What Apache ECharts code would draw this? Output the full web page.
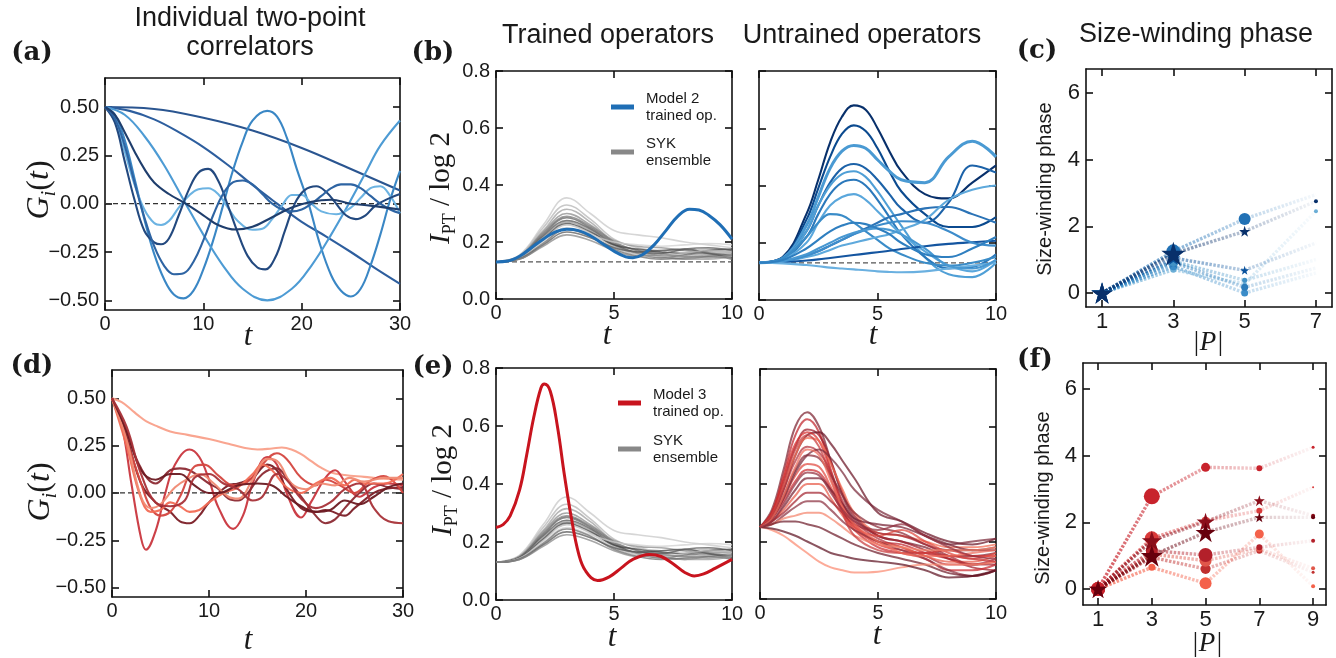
<!DOCTYPE html>
<html><head><meta charset="utf-8">
<script src="https://cdn.jsdelivr.net/npm/echarts@6/dist/echarts.min.js"></script>
<style>html,body{margin:0;padding:0;background:#fff}#c{width:1336px;height:658px}</style>
</head><body><div id="c"></div>
<script>
// ---------------- DATA ----------------
// (a) individual two-point correlators, model 2 (t, G)
const a1 = [[0,0.5],[5,0.49],[10,0.444],[15,0.378],[20,0.288],[25,0.179],[30,0.068]];
const a2 = [[0,0.5],[2.5,0.48],[5,0.436],[7.5,0.37],[10,0.293],[12.5,0.2],[15,0.097],[17.5,0.0],[20,-0.094],[22.5,-0.17],[25,-0.25],[27.5,-0.335],[30,-0.415]];
const a3 = [[0,0.5],[1,0.46],[2,0.33],[3,0.13],[4,-0.08],[5,-0.26],[6,-0.39],[7,-0.47],[8,-0.49],[9,-0.45],[10,-0.34],[11,-0.19],[12,-0.01],[13,0.17],[14,0.32],[15,0.43],[16.5,0.48],[17.5,0.45],[18.5,0.34],[19.5,0.18],[20.7,0],[21.8,-0.2],[23,-0.37],[24,-0.45],[25,-0.48],[26,-0.44],[27,-0.32],[28,-0.16],[29,0.02],[30,0.17]];
const a4 = [[0,0.5],[2,0.46],[4,0.35],[6,0.2],[8.2,0],[10,-0.16],[12,-0.32],[14,-0.44],[16.5,-0.5],[19,-0.44],[21,-0.32],[23,-0.16],[24.8,0],[26.5,0.16],[28,0.3],[30,0.43]];
const a5 = [[0,0.5],[1,0.43],[2,0.27],[3,0.1],[4,-0.03],[5,-0.1],[5.7,-0.11],[6.5,-0.09],[7.5,-0.02],[8.5,0.04],[9.5,0.075],[10.5,0.08],[11.5,0.05],[12.5,-0.02],[13.5,-0.09],[15,-0.135],[16,-0.13],[17,-0.08],[18,-0.01],[19,0.045],[20,0.045],[21,0.0],[22,-0.04],[23.5,-0.055],[25,-0.02],[26,0.03],[27,0.08],[28,0.09],[29,0.04],[30,-0.05]];
const a6 = [[0,0.5],[1,0.42],[2,0.22],[3,0.02],[4,-0.14],[5,-0.2],[5.7,-0.21],[6.5,-0.18],[7.5,-0.06],[8.5,0.07],[9.5,0.16],[10.5,0.18],[11.5,0.12],[12.5,-0.01],[13.5,-0.15],[14.5,-0.27],[15.5,-0.33],[16.3,-0.34],[17.3,-0.28],[18.3,-0.14],[19.3,0.0],[20.3,0.07],[21.5,0.09],[22.5,0.06],[23.5,0.0],[24.5,-0.06],[25.5,-0.08],[26.5,-0.06],[27.5,-0.01],[29,0.03],[30,0.05]];
const a7 = [[0,0.5],[1,0.44],[2,0.3],[3,0.11],[4,-0.07],[5,-0.22],[6,-0.32],[7,-0.365],[8,-0.36],[9,-0.3],[10,-0.19],[11,-0.06],[12,0.05],[13,0.11],[14,0.12],[15,0.1],[16,0.05],[17,0.0],[18,-0.03],[19,-0.04],[20,-0.03],[21,0.0],[22,0.04],[23,0.08],[24,0.1],[25,0.1],[26,0.08],[27,0.04],[28,0.0],[29,-0.03],[30,-0.05]];
const a8 = [[0,0.5],[1,0.46],[2,0.37],[3,0.27],[4,0.18],[5,0.11],[6.5,0.05],[8.2,0.0],[10,-0.06],[11.5,-0.11],[13.3,-0.134],[15,-0.12],[17,-0.07],[19,-0.02],[21,0.01],[23,0.02],[25,0.0],[27,-0.01],[30,-0.03]];

// (d) individual two-point correlators, model 3
const d1 = [[0,0.5],[1,0.48],[2,0.44],[2.7,0.41],[3.5,0.38],[4.75,0.35],[6,0.325],[7.8,0.307],[10,0.285],[12,0.26],[13.5,0.24],[15,0.23],[16.5,0.235],[17.5,0.24],[18.5,0.23],[19.5,0.205],[20.5,0.17],[21.5,0.135],[22.5,0.11],[24,0.095],[26,0.085],[28,0.075],[30,0.07]];
const d2 = [[0,0.5],[1,0.36],[2,0.05],[3,-0.24],[3.5,-0.3],[4.5,-0.2],[5.5,0.0],[6.5,0.15],[8,0.23],[9,0.19],[10,0.07],[11,-0.08],[12.5,-0.19],[13.5,-0.12],[14.5,0.05],[16,0.19],[17,0.15],[18,0.0],[19.5,-0.13],[20.5,-0.05],[22,0.08],[23,0.12],[24,0.06],[25.5,-0.02],[27,0.03],[28.5,0.05],[30,0.04]];
const d3 = [[0,0.5],[1.5,0.3],[3,0.05],[4.5,-0.05],[6,-0.1],[7,-0.15],[8,-0.16],[9,-0.12],[10,-0.05],[12,0.04],[13,0.05],[14.5,0.08],[16,0.15],[17,0.12],[18,0.02],[19.5,-0.08],[21,-0.1],[22,-0.09],[24,-0.12],[25,-0.08],[27,0.0],[28,0.02],[30,0.03]];
const d4 = [[0,0.5],[1.5,0.32],[3,0.13],[4.5,0.05],[6,0.12],[7,0.13],[8,0.12],[10,0.05],[11,0.02],[12,-0.03],[13,-0.04],[14,0.0],[15.5,0.1],[17,0.13],[18,0.08],[19.5,-0.02],[21,-0.12],[22,-0.16],[23,-0.14],[24,-0.08],[25.5,0.0],[27,0.05],[28.5,0.03],[30,0.02]];
const d5 = [[0,0.5],[1.5,0.28],[3,0.05],[4,-0.08],[5,-0.12],[6,-0.1],[7,-0.02],[8.5,0.14],[9.5,0.15],[11,0.09],[12.5,0.04],[14,0.06],[15.5,0.15],[17,0.21],[18,0.18],[19.5,0.08],[21,0.04],[22,0.07],[23.5,0.04],[25,0.0],[26.5,0.06],[28,0.09],[30,0.0]];
const d6 = [[0,0.5],[1.5,0.25],[3,-0.03],[4,-0.1],[5,-0.09],[6,-0.05],[7,-0.07],[8,-0.1],[9,-0.09],[10,-0.05],[11.5,0.0],[13,0.03],[14.5,0.1],[15.5,0.15],[16.5,0.12],[18,0.03],[19.5,0.0],[21,0.05],[22.5,0.08],[24,0.04],[25,0.07],[26,0.05],[28,0.05],[30,0.1]];
const d7 = [[0,0.5],[1.5,0.28],[3,-0.02],[4,-0.08],[5,-0.06],[6.5,0.03],[8,0.08],[9,0.1],[10.5,0.05],[12,-0.02],[13,-0.03],[14.5,0.07],[16,0.18],[17,0.17],[18.5,0.05],[20,0.02],[21.5,0.05],[23,0.04],[24.5,0.08],[26,0.06],[28,0.08],[30,0.08]];
const d8 = [[0,0.5],[1.5,0.33],[3,0.12],[4.5,0.07],[6,0.1],[7,0.1],[8.5,0.04],[10,0.0],[11,0.0],[13,0.04],[15,0.05],[16.5,0.04],[18,-0.02],[19.5,-0.07],[21,-0.1],[22.5,-0.09],[24,-0.04],[25.5,-0.06],[27,-0.02],[28.5,0.03],[30,0.05]];
const d9 = [[0,0.5],[1.5,0.35],[3,0.1],[4.5,-0.05],[6,-0.07],[7.5,-0.04],[8.5,0.08],[10,0.1],[11.5,0.05],[13,0.02],[14.5,-0.04],[15.5,-0.02],[17,0.1],[18,0.07],[19.5,-0.03],[21,-0.08],[22.5,-0.05],[24,0.02],[25.5,0.05],[27,-0.08],[28.5,-0.15],[30,-0.16]];

// (b) trained operator, model 2 (t, I/log2)
const trainedBlue = [[0,0.13],[0.5,0.133],[1,0.15],[1.5,0.18],[2,0.21],[2.5,0.235],[3,0.245],[3.5,0.24],[4,0.222],[4.5,0.195],[5,0.168],[5.5,0.148],[5.8,0.145],[6.2,0.155],[6.7,0.19],[7.2,0.24],[7.7,0.29],[8.2,0.315],[8.6,0.312],[9,0.295],[9.5,0.26],[10,0.21]];
// (e) trained operator, model 3
const trainedRed = [[0,0.25],[0.3,0.26],[0.6,0.29],[1,0.38],[1.3,0.5],[1.6,0.63],[1.9,0.73],[2.05,0.745],[2.3,0.72],[2.6,0.6],[2.9,0.43],[3.2,0.28],[3.5,0.16],[3.8,0.1],[4.3,0.067],[4.8,0.08],[5.3,0.11],[5.8,0.14],[6.5,0.157],[7,0.15],[7.5,0.125],[8,0.095],[8.4,0.083],[8.8,0.09],[9.3,0.11],[10,0.14]];

// SYK ensemble (grey), sampled at tSYK
const tSYK = [0,1,2,3,4,5,6,7,8,9,10];
const syk = [
 [0.13,0.155,0.26,0.355,0.30,0.24,0.225,0.215,0.20,0.19,0.18],
 [0.13,0.152,0.25,0.33,0.28,0.21,0.18,0.17,0.17,0.175,0.17],
 [0.13,0.15,0.24,0.315,0.27,0.2,0.17,0.16,0.15,0.155,0.16],
 [0.13,0.15,0.235,0.30,0.26,0.205,0.185,0.18,0.17,0.165,0.165],
 [0.13,0.148,0.23,0.29,0.255,0.2,0.17,0.15,0.14,0.15,0.155],
 [0.13,0.147,0.225,0.285,0.25,0.195,0.16,0.145,0.155,0.16,0.15],
 [0.13,0.146,0.22,0.275,0.245,0.19,0.165,0.17,0.175,0.16,0.145],
 [0.13,0.145,0.215,0.27,0.24,0.185,0.16,0.15,0.14,0.14,0.15],
 [0.13,0.145,0.21,0.265,0.235,0.19,0.175,0.165,0.16,0.17,0.175],
 [0.13,0.144,0.205,0.26,0.23,0.18,0.155,0.15,0.16,0.17,0.165],
 [0.13,0.143,0.2,0.25,0.225,0.2,0.19,0.185,0.19,0.195,0.19],
 [0.13,0.142,0.195,0.245,0.22,0.175,0.15,0.14,0.145,0.15,0.14],
 [0.13,0.14,0.19,0.235,0.215,0.18,0.165,0.16,0.175,0.18,0.17],
 [0.13,0.14,0.185,0.225,0.205,0.17,0.15,0.155,0.15,0.145,0.155]
];

// (b) untrained operators, model 2
const tU = [0,1,2,2.5,3,3.5,4,4.5,5,5.5,6,7,8,9,10];
const untrainedBlue = [
 [0.13,0.15,0.3,0.42,0.55,0.64,0.68,0.665,0.6,0.52,0.45,0.37,0.355,0.41,0.47],
 [0.13,0.148,0.28,0.39,0.5,0.58,0.61,0.59,0.53,0.45,0.38,0.3,0.255,0.255,0.29],
 [0.13,0.146,0.26,0.36,0.46,0.52,0.54,0.53,0.49,0.45,0.42,0.41,0.5,0.555,0.5],
 [0.13,0.145,0.24,0.33,0.41,0.46,0.475,0.46,0.42,0.37,0.32,0.27,0.34,0.47,0.445],
 [0.13,0.145,0.24,0.33,0.4,0.44,0.45,0.43,0.38,0.32,0.26,0.15,0.09,0.08,0.13],
 [0.13,0.143,0.22,0.3,0.37,0.41,0.42,0.4,0.35,0.29,0.23,0.15,0.11,0.115,0.16],
 [0.13,0.142,0.2,0.27,0.33,0.36,0.37,0.35,0.31,0.27,0.23,0.17,0.12,0.1,0.14],
 [0.13,0.145,0.22,0.27,0.3,0.295,0.27,0.24,0.21,0.18,0.16,0.13,0.12,0.13,0.15],
 [0.13,0.135,0.155,0.17,0.19,0.21,0.23,0.25,0.27,0.29,0.3,0.32,0.325,0.3,0.27],
 [0.13,0.134,0.15,0.16,0.175,0.19,0.2,0.21,0.22,0.23,0.245,0.28,0.35,0.385,0.4],
 [0.13,0.132,0.138,0.142,0.147,0.152,0.157,0.162,0.167,0.172,0.178,0.188,0.196,0.202,0.207],
 [0.13,0.135,0.155,0.17,0.19,0.21,0.23,0.245,0.26,0.27,0.275,0.27,0.24,0.2,0.19],
 [0.13,0.128,0.122,0.118,0.113,0.11,0.107,0.104,0.1,0.098,0.097,0.1,0.11,0.12,0.13],
 [0.13,0.137,0.16,0.18,0.2,0.22,0.235,0.245,0.25,0.245,0.23,0.18,0.12,0.11,0.14],
 [0.13,0.14,0.18,0.21,0.24,0.26,0.27,0.265,0.25,0.23,0.2,0.16,0.15,0.18,0.22]
];

// (e) untrained operators, model 3
const tR = [0,0.5,1,1.5,2,2.5,3,3.5,4,5,6,7,8,9,10];
const untrainedRed = [
 [0.25,0.31,0.45,0.6,0.65,0.6,0.48,0.36,0.28,0.22,0.2,0.18,0.15,0.15,0.16],
 [0.25,0.3,0.43,0.57,0.625,0.58,0.45,0.33,0.26,0.2,0.19,0.16,0.14,0.12,0.13],
 [0.25,0.3,0.41,0.53,0.59,0.57,0.48,0.37,0.29,0.22,0.2,0.17,0.14,0.11,0.1],
 [0.25,0.29,0.38,0.5,0.57,0.58,0.54,0.48,0.42,0.3,0.27,0.23,0.2,0.19,0.21],
 [0.25,0.3,0.42,0.54,0.58,0.55,0.44,0.32,0.25,0.19,0.17,0.16,0.17,0.15,0.15],
 [0.25,0.29,0.39,0.5,0.56,0.55,0.47,0.38,0.3,0.23,0.22,0.2,0.18,0.18,0.19],
 [0.25,0.29,0.38,0.48,0.53,0.51,0.44,0.34,0.27,0.21,0.18,0.15,0.12,0.12,0.14],
 [0.25,0.28,0.36,0.45,0.5,0.49,0.43,0.36,0.3,0.25,0.23,0.19,0.17,0.17,0.18],
 [0.25,0.28,0.35,0.43,0.47,0.46,0.39,0.31,0.25,0.22,0.24,0.2,0.16,0.14,0.16],
 [0.25,0.28,0.34,0.41,0.45,0.44,0.38,0.3,0.24,0.18,0.16,0.14,0.1,0.1,0.12],
 [0.25,0.27,0.32,0.38,0.42,0.42,0.38,0.33,0.28,0.26,0.25,0.22,0.19,0.17,0.17],
 [0.25,0.27,0.31,0.36,0.4,0.4,0.35,0.29,0.24,0.2,0.18,0.15,0.13,0.13,0.15],
 [0.25,0.27,0.3,0.34,0.37,0.37,0.34,0.3,0.26,0.23,0.22,0.19,0.15,0.12,0.12],
 [0.25,0.26,0.29,0.32,0.34,0.34,0.31,0.27,0.24,0.2,0.17,0.14,0.1,0.08,0.1],
 [0.25,0.26,0.28,0.29,0.3,0.3,0.28,0.25,0.22,0.19,0.18,0.17,0.17,0.17,0.18],
 [0.25,0.26,0.27,0.27,0.26,0.25,0.23,0.21,0.19,0.16,0.14,0.12,0.09,0.08,0.1],
 [0.25,0.24,0.22,0.19,0.16,0.13,0.11,0.1,0.092,0.095,0.11,0.12,0.12,0.12,0.13],
 [0.25,0.245,0.235,0.22,0.2,0.18,0.16,0.15,0.14,0.13,0.12,0.1,0.075,0.08,0.1],
 [0.25,0.29,0.4,0.52,0.57,0.53,0.42,0.3,0.22,0.17,0.16,0.16,0.15,0.14,0.13],
 [0.25,0.28,0.35,0.44,0.5,0.52,0.49,0.44,0.38,0.31,0.27,0.22,0.19,0.2,0.21],
 [0.25,0.28,0.36,0.46,0.52,0.5,0.41,0.32,0.26,0.2,0.16,0.15,0.15,0.16,0.17],
 [0.25,0.27,0.33,0.4,0.44,0.43,0.37,0.31,0.27,0.24,0.26,0.22,0.18,0.15,0.14]
];
const baselineB = 0.13;

// (c) size-winding phase, model 2
const sizeC = [1,3,5,7];
const phaseC = [
 [0,1.25,2.22,2.95],
 [0,1.18,1.85,2.75],
 [0,1.05,0.68,1.5],
 [0,0.95,0.38,1.0],
 [0,0.92,0.17,0.75],
 [0,0.8,0.0,0.6],
 [0,0.7,0.27,2.45]
];
// (f) size-winding phase, model 3
const sizeF = [1,3,5,7,9];
const phaseF = [
 [0,2.78,3.65,3.62,4.25],
 [0,1.45,2.02,2.65,2.2],
 [0,1.0,1.7,2.15,2.15],
 [0,1.52,2.05,2.35,3.05],
 [0,1.15,1.02,1.25,1.45],
 [0,1.05,0.85,1.2,0.62],
 [0,0.95,0.6,1.15,0.5],
 [0,0.65,0.17,1.65,0.08]
];

// ---------------- STYLE ----------------
const SANS = 'Liberation Sans, Arial, Helvetica, sans-serif';
const SERIF = 'Liberation Serif, DejaVu Serif, serif';
const STAR = 'path://M50,0 L61.2,34.5 L97.6,34.5 L68.2,55.9 L79.4,90.5 L50,69.1 L20.6,90.5 L31.8,55.9 L2.4,34.5 L38.8,34.5 Z';
const colA = ['#2a5590','#2d5e9e','#3a87c5','#4d9bd4','#6cb3e2','#23497f','#2e64a3','#1f3e6d'];
const colD = ['#f9a08a','#c9363e','#7b1d26','#8c2a33','#d4463f','#f26c55','#f08a73','#6b1a22','#a83238'];
const colSYK = ['#c8c8c8','#b5b5b5','#a0a0a0','#8c8c8c','#7a7a7a','#666666','#555555','#999999','#444444','#bbbbbb','#d0d0d0','#707070','#5a5a5a','#888888'];
const colU = ['#08306b','#0b4a8f','#4a9ad3','#1c62a8','#4f9fd6','#2a78bb','#5aa7dc','#3a8cc8','#2b73b6','#5ea9dc','#1455a0','#3d8ccb','#6ab0e0','#4898d2','#2f7fc0'];
const colR = ['#7d2230','#c0252c','#9e1b27','#6b1525','#d7302f','#f26a50','#b3313b','#8a2a36','#e0483e','#cc2b30','#762032','#e85c4a','#a32631','#8c3040','#f4836c','#6f1d2b','#fb8a72','#5e1422','#c83a3c','#7a2a3a','#ef6b5a','#933040'];
const colC = ['#2171b5','#08306b','#08519c','#4292c6','#2b7bba','#3a8cc8','#6baed6'];
const symC = [['s','c','c','c'],['s','s','s','c'],['s','s','s','c'],['s','c','c','c'],['s','s','c','c'],['s','c','c','c'],['s','c','c','c']];
const sizC = [[20,14,12,0],[22,24,11,4],[20,14,9,0],[20,10,5,0],[20,12,7,0],[20,8,7,0],[20,6,4,4]];
const orderC = [6,5,4,3,2,0,1];
const colF = ['#c8232c','#8b0e1a','#67000d','#d93a3a','#b3202a','#e0574a','#c0302f','#f4614a'];
const symF = [['c','c','c','c','c'],['s','s','s','s','c'],['s','s','s','s','c'],['c','c','c','c','c'],['c','c','c','c','c'],['c','c','c','c','c'],['c','c','c','c','c'],['c','c','c','c','c']];
const sizF = [[14,16,9,6,3],[18,20,18,11,4],[18,22,20,10,4],[14,14,8,6,2],[14,12,14,6,4],[12,12,12,6,4],[12,10,10,6,3],[12,7,12,9,4]];
const orderF = [7,6,5,4,3,0,1,2];

// ---------------- BUILD ----------------
const grids = [], xAxes = [], yAxes = [], series = [];
function fmt2(v){ return (v < 0 ? '\u2212' : '') + Math.abs(v).toFixed(2); }
function fmt1(v){ return v.toFixed(1); }
function fmt0(v){ return String(v); }
function axisBase(gi, min, max, ticks, pos, showLabel, fmt, fs, margin){
  return {type:'value', gridIndex:gi, min:min, max:max, position:pos,
    axisLine:{show:true, onZero:false, lineStyle:{color:'#111', width:1.6}},
    axisTick:{show:true, inside:true, length:7, customValues:ticks, lineStyle:{color:'#111', width:1.6}},
    axisLabel:{show:showLabel, customValues:ticks, formatter:fmt, fontSize:fs, color:'#1a1a1a', fontFamily:SANS, margin:margin},
    splitLine:{show:false}};
}
function panel(rect, xr, yr, xt, yt, showY, yfmt, fs){
  const gi = grids.length;
  grids.push({left:rect[0], top:rect[1], width:rect[2], height:rect[3], containLabel:false});
  xAxes.push(axisBase(gi, xr[0], xr[1], xt, 'bottom', true, fmt0, fs, 4));
  xAxes.push(axisBase(gi, xr[0], xr[1], xt, 'top', false, fmt0, fs, 4));
  yAxes.push(axisBase(gi, yr[0], yr[1], yt, 'left', showY, yfmt, fs, 6));
  yAxes.push(axisBase(gi, yr[0], yr[1], yt, 'right', false, yfmt, fs, 6));
  return gi;
}
function line(gi, data, color, width, opacity, name, z){
  series.push({type:'line', name:name, xAxisIndex:2*gi, yAxisIndex:2*gi, data:data, smooth:0.4,
    showSymbol:false, symbol:'none', color:color, z:z||2, silent:true,
    lineStyle:{color:color, width:width, opacity:opacity==null?1:opacity}});
}
function hline(gi, x0, x1, y, color){
  series.push({type:'line', xAxisIndex:2*gi, yAxisIndex:2*gi, data:[[x0,y],[x1,y]], showSymbol:false, symbol:'none', silent:true, z:1,
    lineStyle:{color:color, width:1.3, type:[5,3]}});
}
function zipT(T, vals){ return vals.map((v,i)=>[T[i], v]); }
function rgba(hex, a){ const n=parseInt(hex.slice(1),16); return 'rgba('+(n>>16&255)+','+(n>>8&255)+','+(n&255)+','+a+')'; }
function pathSeries(gi, xs, ys, syms, sizes, color, a0, a1){
  series.push({type:'line', xAxisIndex:2*gi, yAxisIndex:2*gi, silent:true, z:3,
    data: xs.map((x,i)=>({value:[x, ys[i]], symbol: syms[i]==='s' ? STAR : 'circle', symbolSize: sizes[i]})),
    showSymbol:true, itemStyle:{color:color, opacity:1},
    lineStyle:{width:3.4, type:[2.5,1.5], color:new echarts.graphic.LinearGradient(0,0,1,0,[{offset:0,color:rgba(color,a0)},{offset:1,color:rgba(color,a1)}])}});
}

// panel (a)
const gA = panel([105,78,295,232],[0,30],[-0.55,0.65],[0,10,20,30],[-0.5,-0.25,0,0.25,0.5],true,fmt2,20);
hline(gA,0,30,0,'#333');
[a1,a2,a3,a4,a5,a6,a7,a8].forEach((d,i)=>line(gA,d,colA[i],2.1,1));
// panel (b) trained
const gB1 = panel([496,71,236,228],[0,10],[0,0.8],[0,5,10],[0,0.2,0.4,0.6,0.8],true,fmt1,20);
hline(gB1,0,10,baselineB,'#555');
syk.forEach((v,i)=>line(gB1,zipT(tSYK,v),colSYK[i],1.6,0.75,'SYK\nensemble'));
line(gB1,trainedBlue,'#1f6eb5',3,1,'Model 2\ntrained op.',5);
// panel (b) untrained
const gB2 = panel([759,71,237,229],[0,10],[0,0.8],[0,5,10],[0,0.2,0.4,0.6,0.8],false,fmt1,20);
hline(gB2,0,10,baselineB,'#555');
untrainedBlue.forEach((v,i)=>line(gB2,zipT(tU,v),colU[i],i===2?3:2.1,1));
// panel (c)
const gC = panel([1086,69,246,238],[0.55,7.45],[-0.42,6.72],[1,3,5,7],[0,2,4,6],true,fmt0,22);
orderC.forEach(i=>pathSeries(gC,sizeC,phaseC[i],symC[i],sizC[i],colC[i],0.8,0.03));
// panel (d)
const gD = panel([112,370,291,227],[0,30],[-0.55,0.65],[0,10,20,30],[-0.5,-0.25,0,0.25,0.5],true,fmt2,20);
hline(gD,0,30,0,'#333');
[d1,d2,d3,d4,d5,d6,d7,d8,d9].forEach((d,i)=>line(gD,d,colD[i],2.1,0.95));
// panel (e) trained
const gE1 = panel([496,368,236,232],[0,10],[0,0.8],[0,5,10],[0,0.2,0.4,0.6,0.8],true,fmt1,20);
syk.forEach((v,i)=>line(gE1,zipT(tSYK,v),colSYK[i],1.6,0.75,'SYK\nensemble'));
line(gE1,trainedRed,'#c8141e',3,1,'Model 3\ntrained op.',5);
// panel (e) untrained
const gE2 = panel([760,369,236,230],[0,10],[0,0.8],[0,5,10],[0,0.2,0.4,0.6,0.8],false,fmt1,20);
untrainedRed.forEach((v,i)=>line(gE2,zipT(tR,v),colR[i],2,0.72));
// panel (f)
const gF = panel([1083,363,243,242],[0.44,9.48],[-0.48,6.78],[1,3,5,7,9],[0,2,4,6],true,fmt0,22);
orderF.forEach(i=>pathSeries(gF,sizeF,phaseF[i],symF[i],sizF[i],colF[i],0.75,0.03));

// ---------------- TEXT ----------------
function txt(x,y,text,font,opts){
  return Object.assign({type:'text', x:x, y:y, silent:true, z:100,
    style:Object.assign({text:text, font:font, fill:'#1a1a1a', align:'center', verticalAlign:'middle'}, opts||{})});
}
function rot(el){ el.rotation = Math.PI/2; return el; }
const gRich = {a:{fontFamily:SERIF, fontStyle:'italic', fontSize:32, lineHeight:40}, b:{fontFamily:SERIF, fontStyle:'italic', fontSize:21, verticalAlign:'bottom'}, c:{fontFamily:SERIF, fontSize:32, lineHeight:40}};
const iRich = {a:{fontFamily:SERIF, fontStyle:'italic', fontSize:29, lineHeight:36}, s:{fontFamily:SERIF, fontSize:18, verticalAlign:'bottom'}, c:{fontFamily:SERIF, fontSize:29, lineHeight:36}};
const TF = '27px '+SANS, PF = 'bold 26px DejaVu Serif', TI = 'italic 31px '+SERIF;
const graphics = [
  txt(250,19,'Individual two-point',TF),
  txt(250,48,'correlators',TF),
  txt(608,36,'Trained operators',TF),
  txt(862,36,'Untrained operators',TF),
  txt(1196,35,'Size-winding phase',TF),
  txt(32,53,'(a)',PF),
  txt(433,53,'(b)',PF),
  txt(1037,51,'(c)',PF),
  txt(32,366,'(d)',PF),
  txt(433,367,'(e)',PF),
  txt(1035,360,'(f)',PF),
  rot(txt(40,190,'{a|G}{b|i}{c|(}{a|t}{c|)}','32px '+SERIF,{rich:gRich})),
  rot(txt(41,492,'{a|G}{b|i}{c|(}{a|t}{c|)}','32px '+SERIF,{rich:gRich})),
  rot(txt(441,188,'{a|I}{s|PT}{c| / log 2}','29px '+SERIF,{rich:iRich})),
  rot(txt(443,480,'{a|I}{s|PT}{c| / log 2}','29px '+SERIF,{rich:iRich})),
  rot(txt(1045,189,'Size-winding phase','20px '+SANS)),
  rot(txt(1043,498,'Size-winding phase','20px '+SANS)),
  txt(248,337,'t',TI),
  txt(607,336,'t',TI),
  txt(873,336,'t',TI),
  txt(248,641,'t',TI),
  txt(612,638,'t',TI),
  txt(877,636,'t',TI),
  txt(1208,343,'|P|','italic 27px '+SERIF),
  txt(1207,644,'|P|','italic 27px '+SERIF)
];

const legendBase = {orient:'vertical', icon:'rect', itemWidth:23, itemHeight:5, selectedMode:false,
  textStyle:{fontSize:15, lineHeight:17, fontFamily:SANS, color:'#1a1a1a', padding:[0,0,0,7]}};
const option = {
  animation:false, backgroundColor:'#fff',
  grid:grids, xAxis:xAxes, yAxis:yAxes, series:series, graphic:graphics,
  legend:[
    Object.assign({}, legendBase, {left:606, top:85, itemGap:11,
      data:[{name:'Model 2\ntrained op.', itemStyle:{color:'#1f6eb5'}}, {name:'SYK\nensemble', itemStyle:{color:'#888888'}}]}),
    Object.assign({}, legendBase, {left:613, top:381, itemGap:12,
      data:[{name:'Model 3\ntrained op.', itemStyle:{color:'#c8141e'}}, {name:'SYK\nensemble', itemStyle:{color:'#888888'}}]})
  ]
};
const chart = echarts.init(document.getElementById('c'), null, {renderer:'canvas'});
chart.setOption(option);
</script></body></html>
